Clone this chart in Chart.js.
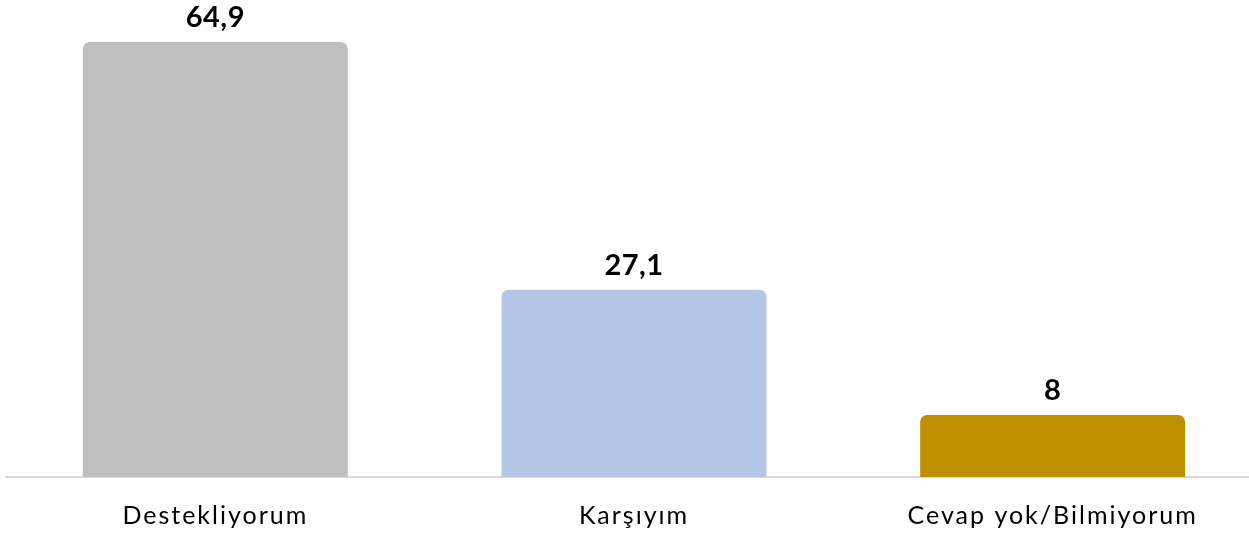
<!DOCTYPE html>
<html>
<head>
<meta charset="utf-8">
<script src="https://cdn.jsdelivr.net/npm/chart.js@4/dist/chart.umd.min.js"></script>
<style>
html,body{margin:0;padding:0;background:#fff;overflow:hidden;width:1249px;height:534px;}
#wrap{position:absolute;left:0;top:0;width:1268px;height:534px;}
</style>
</head>
<body>
<div id="wrap"><canvas id="c" width="1268" height="534"></canvas></div>
<script>
const categories = ["Destekliyorum", "Karşıyım", "Cevap yok/Bilmiyorum"];
const values = [64.9, 27.1, 8];
const valueLabels = ["64,9", "27,1", "8"];
const colors = ["#BFBFBF", "#B4C7E7", "#BF9000"];
const axisMin = -1.46;
const axisMax = 71.31;

const spacingPlugin = {
  id: 'spacing',
  beforeDraw(chart) {
    chart.ctx.letterSpacing = '2px';
  }
};

const valueLabelPlugin = {
  id: 'valueLabels',
  afterDatasetsDraw(chart) {
    const ctx = chart.ctx;
    const meta = chart.getDatasetMeta(0);
    ctx.save();
    ctx.letterSpacing = '0.5px';
    ctx.font = 'bold 29px Lato, "Open Sans", sans-serif';
    ctx.fillStyle = '#000';
    ctx.textAlign = 'center';
    ctx.textBaseline = 'middle';
    meta.data.forEach((bar, i) => {
      ctx.fillText(valueLabels[i], bar.x, bar.y - 24);
    });
    ctx.restore();
  }
};

new Chart(document.getElementById('c'), {
  type: 'bar',
  data: {
    labels: categories,
    datasets: [{
      data: values,
      base: axisMin,
      backgroundColor: colors,
      borderRadius: 7,
      borderSkipped: 'start',
      categoryPercentage: 1.0,
      barPercentage: 0.633
    }]
  },
  options: {
    responsive: false,
    animation: false,
    devicePixelRatio: 1,
    layout: { padding: { left: 6, right: 6, top: 0, bottom: 0 } },
    plugins: { legend: { display: false }, tooltip: { enabled: false } },
    scales: {
      y: {
        display: false,
        min: axisMin,
        max: axisMax
      },
      x: {
        grid: { display: false, drawTicks: false },
        border: { display: true, color: '#D9D9D9', width: 2 },
        ticks: {
          color: '#000',
          font: { size: 25, family: 'Lato, "Open Sans", sans-serif' },
          padding: 24
        },
        afterFit(scale) { scale.height = 57; }
      }
    }
  },
  plugins: [spacingPlugin, valueLabelPlugin]
});
</script>
</body>
</html>
